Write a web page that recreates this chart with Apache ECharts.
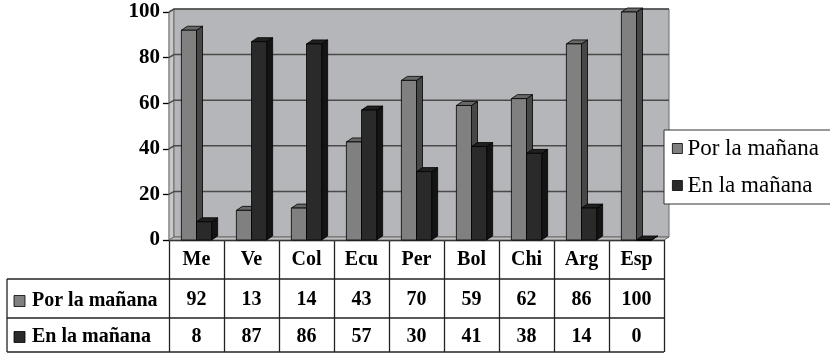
<!DOCTYPE html>
<html>
<head>
<meta charset="utf-8">
<script src="https://cdn.jsdelivr.net/npm/echarts@6/dist/echarts.min.js"></script>
<style>
  html, body { margin: 0; padding: 0; background: #fff; }
  #chart { width: 830px; height: 353px; }
</style>
</head>
<body>
<div id="chart"></div>
<script>
// Countries (abbreviated) and the two answer percentages
const categories = ['Me', 'Ve', 'Col', 'Ecu', 'Per', 'Bol', 'Chi', 'Arg', 'Esp'];
const porLaManana = [92, 13, 14, 43, 70, 59, 62, 86, 100];
const enLaManana = [8, 87, 86, 57, 30, 41, 38, 14, 0];
const seriesNames = ['Por la mañana', 'En la mañana'];
const yTicks = [0, 20, 40, 60, 80, 100];

// Layout
const GRID = { left: 169, top: 12, right: 166, bottom: 113 };
const WALL_DX = 5, WALL_DY = -3;   // depth of back wall
const BAR_DX = 6, BAR_DY = -4;     // depth of each column
const FONT = 'Liberation Serif';

const faces = [
  { front: '#808080', side: '#474747', top: '#686868' },
  { front: '#2a2a2a', side: '#141414', top: '#202020' }
];

function columnRenderer(slot) {
  const f = faces[slot];
  return function (params, api) {
    const i = api.value(0), v = api.value(1);
    const base = api.coord([i, 0]);
    const top = api.coord([i, v]);
    const bw = api.size([1, 0])[0] * 0.275;
    const x0 = base[0] - bw + slot * bw;
    const x1 = x0 + bw;
    const yt = top[1], yb = base[1];
    const edge = { stroke: '#000', lineWidth: 0.8 };
    return {
      type: 'group',
      children: [
        { type: 'polygon', shape: { points: [[x1, yt], [x1 + BAR_DX, yt + BAR_DY], [x1 + BAR_DX, yb + BAR_DY], [x1, yb]] },
          style: Object.assign({ fill: f.side }, edge) },
        { type: 'polygon', shape: { points: [[x0, yt], [x0 + BAR_DX, yt + BAR_DY], [x1 + BAR_DX, yt + BAR_DY], [x1, yt]] },
          style: Object.assign({ fill: f.top }, edge) },
        { type: 'rect', shape: { x: x0, y: yt, width: bw, height: yb - yt },
          style: Object.assign({ fill: f.front }, edge) }
      ]
    };
  };
}

// Back wall, side wall, floor and gridlines
function wallRenderer(params, api) {
  const cs = params.coordSys;
  const x = cs.x, y = cs.y, w = cs.width, h = cs.height;
  const children = [
    { type: 'polygon', shape: { points: [[x, y], [x + WALL_DX, y + WALL_DY], [x + WALL_DX, y + h + WALL_DY], [x, y + h]] },
      style: { fill: '#c6c8ca', stroke: '#6a6a6a', lineWidth: 1 } },
    { type: 'rect', shape: { x: x + WALL_DX, y: y + WALL_DY, width: w, height: h },
      style: { fill: '#b4b6b9', stroke: '#6a6a6a', lineWidth: 1 } },
    { type: 'polygon', shape: { points: [[x, y + h], [x + WALL_DX, y + h + WALL_DY], [x + w + WALL_DX, y + h + WALL_DY], [x + w, y + h]] },
      style: { fill: '#c0c0c0', stroke: '#6a6a6a', lineWidth: 1 } }
  ];
  yTicks.forEach(function (t) {
    if (t === 0) return;
    const yy = api.coord([0, t])[1];
    children.push({ type: 'polyline', shape: { points: [[x, yy], [x + WALL_DX, yy + WALL_DY], [x + w + WALL_DX, yy + WALL_DY]] },
      style: { stroke: '#4a4a4a', lineWidth: 1.5, fill: null } });
  });
  return { type: 'group', children: children };
}

// Data table values under each category
function tableRenderer(params, api) {
  const i = api.value(0);
  const cx = api.coord([i, 0])[0];
  const yb = params.coordSys.y + params.coordSys.height;
  const txt = function (val, yy) {
    return { type: 'text', style: { text: String(val), x: cx, y: yy, font: 'bold 20px "' + FONT + '"', fill: '#000',
      textAlign: 'center', textVerticalAlign: 'middle', align: 'center', verticalAlign: 'middle' } };
  };
  return { type: 'group', children: [txt(api.value(1), yb + 60), txt(api.value(2), yb + 97)] };
}

const chart = echarts.init(document.getElementById('chart'), null, { renderer: 'canvas' });

const tableLeft = 7;
const tableRight = 830 - GRID.right;
const plotBottom = 353 - GRID.bottom;
const rowLines = [plotBottom + 39, plotBottom + 78, plotBottom + 112];

const graphics = [];
rowLines.forEach(function (yy) {
  graphics.push({ type: 'line', shape: { x1: tableLeft, y1: yy, x2: tableRight, y2: yy }, style: { stroke: '#222', lineWidth: 1.3 }, z: 20 });
});
graphics.push({ type: 'line', shape: { x1: tableLeft, y1: rowLines[0], x2: tableLeft, y2: rowLines[2] }, style: { stroke: '#222', lineWidth: 1.3 }, z: 20 });
seriesNames.forEach(function (name, k) {
  const cy = k === 0 ? plotBottom + 61 : plotBottom + 97;
  graphics.push({ type: 'rect', shape: { x: 14, y: cy - 5.5, width: 11, height: 11 },
    style: { fill: faces[k].front, stroke: '#000', lineWidth: 0.8 }, z: 20 });
  graphics.push({ type: 'text', style: { text: name, x: 32, y: cy, font: 'bold 20px "' + FONT + '"', fill: '#000',
    textAlign: 'left', textVerticalAlign: 'middle', align: 'left', verticalAlign: 'middle' }, z: 20 });
});

chart.setOption({
  animation: false,
  backgroundColor: '#fff',
  grid: { left: GRID.left, top: GRID.top, right: GRID.right, bottom: GRID.bottom, containLabel: false },
  legend: {
    orient: 'vertical',
    left: 664, top: 130,
    padding: [7, 24, 7, 8],
    itemWidth: 10, itemHeight: 10, itemGap: 14,
    backgroundColor: '#fff',
    borderColor: '#333', borderWidth: 1,
    z: 30,
    textStyle: { fontFamily: FONT, fontSize: 23, color: '#000' },
    data: seriesNames.map(function (n, k) {
      return { name: n, icon: 'rect', itemStyle: { color: faces[k].front, borderColor: '#000', borderWidth: 0.8 } };
    })
  },
  xAxis: {
    type: 'category',
    data: categories,
    boundaryGap: true,
    axisLine: { show: true, lineStyle: { color: '#000', width: 1.3 } },
    axisTick: { show: true, interval: 0, length: 112, lineStyle: { color: '#222', width: 1.3 } },
    axisLabel: { interval: 0, margin: 10, fontFamily: FONT, fontSize: 20, fontWeight: 'bold', color: '#000' },
    splitLine: { show: false }
  },
  yAxis: {
    type: 'value',
    min: 0, max: 100, interval: 20,
    axisLine: { show: true, lineStyle: { color: '#000', width: 1.3 } },
    axisTick: { show: true, length: 6, lineStyle: { color: '#000', width: 1.3 } },
    axisLabel: { margin: 9, fontFamily: FONT, fontSize: 21, fontWeight: 'bold', color: '#000' },
    splitLine: { show: false }
  },
  graphic: graphics,
  series: [
    { type: 'custom', name: 'wall', silent: true, z: 1, clip: false, renderItem: wallRenderer, data: [[0, 0]], encode: { x: 0, y: 1 } },
    { type: 'custom', name: seriesNames[0], z: 3, clip: false, renderItem: columnRenderer(0),
      itemStyle: { color: faces[0].front },
      data: porLaManana.map(function (v, i) { return [i, v]; }), encode: { x: 0, y: 1 } },
    { type: 'custom', name: seriesNames[1], z: 3, clip: false, renderItem: columnRenderer(1),
      itemStyle: { color: faces[1].front },
      data: enLaManana.map(function (v, i) { return [i, v]; }), encode: { x: 0, y: 1 } },
    { type: 'custom', name: 'tabla', silent: true, z: 5, clip: false, renderItem: tableRenderer,
      data: categories.map(function (c, i) { return [i, porLaManana[i], enLaManana[i]]; }), encode: { x: 0, y: 1 } }
  ]
});
</script>
</body>
</html>
